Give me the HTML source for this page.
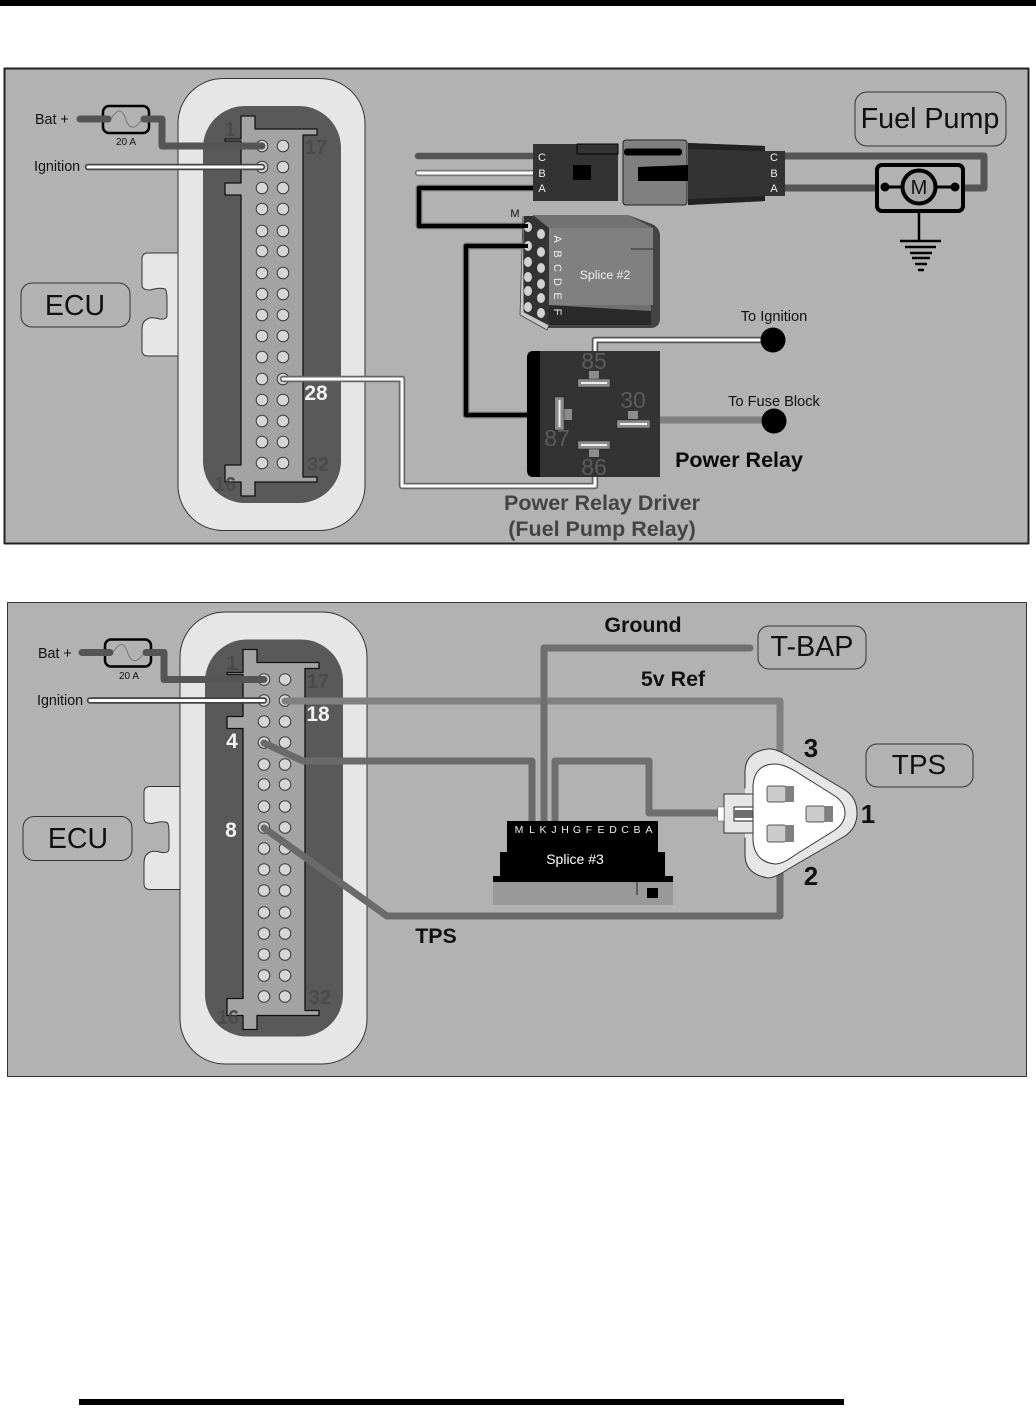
<!DOCTYPE html>
<html><head><meta charset="utf-8"><style>
html,body{margin:0;padding:0;background:#fff}
svg{display:block}
text{font-family:"Liberation Sans",Arial,sans-serif}
</style></head><body>
<svg width="1036" height="1416" viewBox="0 0 1036 1416" xmlns="http://www.w3.org/2000/svg" fill="none" stroke-linejoin="round" stroke-linecap="round">
<defs>
<g id="ecu">
  <path d="M178,253H148Q142,253 142,259V285Q142,290 150,290Q160,287 165,289Q167,290 167,300V315Q167,320 160,319Q150,316 146,320Q142,322 142,330V350Q142,356 148,356H178" fill="#e6e6e6" stroke="#333" stroke-width="1"/>
  <rect x="178" y="78.500" width="187" height="452" rx="45" fill="#e6e6e6" stroke="#333" stroke-width="1"/>
  <rect x="203" y="106" width="138" height="397" rx="42" fill="#595959"/>
  <path d="M241,116H255V129H317V135H303V477H317V482H255V496H241V482H225V465H241V195H225V183H241V141H225V139H241Z" fill="#a3a3a3" stroke="#111" stroke-width="1.300"/>
  <g fill="#d6d6d6" stroke="#3a3a3a" stroke-width="1">
    <circle cx="262" cy="146" r="5.800"/><circle cx="283" cy="146" r="5.800"/>
    <circle cx="262" cy="167" r="5.800"/><circle cx="283" cy="167" r="5.800"/>
    <circle cx="262" cy="188" r="5.800"/><circle cx="283" cy="188" r="5.800"/>
    <circle cx="262" cy="209" r="5.800"/><circle cx="283" cy="209" r="5.800"/>
    <circle cx="262" cy="231" r="5.800"/><circle cx="283" cy="231" r="5.800"/>
    <circle cx="262" cy="251" r="5.800"/><circle cx="283" cy="251" r="5.800"/>
    <circle cx="262" cy="273" r="5.800"/><circle cx="283" cy="273" r="5.800"/>
    <circle cx="262" cy="294" r="5.800"/><circle cx="283" cy="294" r="5.800"/>
    <circle cx="262" cy="315" r="5.800"/><circle cx="283" cy="315" r="5.800"/>
    <circle cx="262" cy="336" r="5.800"/><circle cx="283" cy="336" r="5.800"/>
    <circle cx="262" cy="357" r="5.800"/><circle cx="283" cy="357" r="5.800"/>
    <circle cx="262" cy="379" r="5.800"/><circle cx="283" cy="379" r="5.800"/>
    <circle cx="262" cy="400" r="5.800"/><circle cx="283" cy="400" r="5.800"/>
    <circle cx="262" cy="421" r="5.800"/><circle cx="283" cy="421" r="5.800"/>
    <circle cx="262" cy="442" r="5.800"/><circle cx="283" cy="442" r="5.800"/>
    <circle cx="262" cy="463" r="5.800"/><circle cx="283" cy="463" r="5.800"/>
  </g>
  <rect x="21" y="283" width="109" height="44" rx="11" fill="#b2b2b2" stroke="#333" stroke-width="1"/>
  <rect x="103" y="106" width="46" height="27" rx="6" stroke="#000" stroke-width="2.500"/>
  <path d="M110,120C118,108 122,108 126,120C130,131 136,129 143,118" stroke="#777" stroke-width="1"/>
  <path d="M80,119H108M144,119H162V146H262" stroke="#555" stroke-width="7"/>
  <path d="M88,167H262" stroke="#444" stroke-width="6.500"/>
  <path d="M88,167H262" stroke="#fff" stroke-width="3"/>
</g>
</defs>

<rect x="0" y="0" width="1036" height="6" fill="#000"/>
<rect x="79" y="1399" width="765" height="6" fill="#000"/>

<!-- PANEL 1 -->
<rect x="4.500" y="68.500" width="1024" height="475" fill="#b2b2b2" stroke="#222" stroke-width="2"/>
<use href="#ecu"/>
<g fill="#111" stroke="none">
  <text x="35" y="124" font-size="14.300">Bat +</text>
  <text x="34" y="171" font-size="14.300">Ignition</text>
  <text x="126" y="145" font-size="10" text-anchor="middle">20 A</text>
  <text x="75" y="315" font-size="28.500" text-anchor="middle">ECU</text>
</g>
<g fill="#4b4b4b" stroke="none" font-size="20" font-weight="bold">
  <text x="230" y="136" text-anchor="middle">1</text>
  <text x="316" y="154" text-anchor="middle">17</text>
  <text x="318" y="471" text-anchor="middle">32</text>
  <text x="225" y="491" text-anchor="middle">16</text>
</g>
<text x="316" y="400" font-size="21" font-weight="bold" fill="#f2f2f2" text-anchor="middle">28</text>

<path d="M283,379H402V486H595V460" stroke="#666" stroke-width="6.500"/>
<path d="M283,379H402V486H595V460" stroke="#fff" stroke-width="3"/>

<!-- wires to connector -->
<path d="M418,156H533" stroke="#555" stroke-width="6.500"/>
<path d="M418,173H533" stroke="#777" stroke-width="6.500"/>
<path d="M418,173H533" stroke="#fff" stroke-width="3"/>
<path d="M533,188H419V226H527" stroke="#666" stroke-width="6.500"/>
<path d="M533,188H419V226H527" stroke="#000" stroke-width="4"/>
<path d="M527,246H466V415H527" stroke="#666" stroke-width="6.500"/>
<path d="M527,246H466V415H527" stroke="#000" stroke-width="4"/>
<path d="M785,156H984V188H785" stroke="#555" stroke-width="7" stroke-linecap="butt"/>

<!-- Left connector -->
<rect x="533" y="144" width="85" height="57" fill="#333"/>
<rect x="577" y="144" width="41" height="10" fill="#333" stroke="#000" stroke-width="1"/>
<rect x="573" y="165" width="18" height="15" fill="#000"/>
<!-- middle -->
<rect x="623" y="140" width="64" height="65" rx="3" fill="#808080" stroke="#222" stroke-width="1"/>
<rect x="624" y="148.500" width="58" height="7" rx="3" fill="#000"/>
<path d="M638,167L688,165V181H638Z" fill="#000"/>
<!-- right connector -->
<path d="M688,143L765,146V151H785V196H765V201L688,205Z" fill="#333"/>
<path d="M688,143L765,146V151L688,149Z" fill="#222"/>
<path d="M688,199L765,196V201L688,205Z" fill="#222"/>
<g fill="#eee" font-size="11" text-anchor="middle" stroke="none">
  <text x="542" y="161">C</text><text x="542" y="177">B</text><text x="542" y="192">A</text>
  <text x="774" y="161">C</text><text x="774" y="177">B</text><text x="774" y="192">A</text>
</g>

<!-- Motor -->
<rect x="877" y="165" width="86" height="46" rx="5" fill="#b2b2b2" stroke="#000" stroke-width="4"/>
<path d="M885,187H955" stroke="#000" stroke-width="3"/>
<circle cx="885" cy="187" r="4.500" fill="#000"/><circle cx="955" cy="187" r="4.500" fill="#000"/>
<circle cx="919" cy="187" r="16.500" fill="#a8a8a8" stroke="#000" stroke-width="4"/>
<text x="919" y="194" font-size="20" fill="#111" text-anchor="middle">M</text>
<path d="M919,212V241" stroke="#000" stroke-width="2.500" stroke-linecap="butt"/>
<path d="M900,241H941M905,247H936M910,253H932M912,258H930M915,264H927M918,270H924" stroke="#000" stroke-width="2.500" stroke-linecap="butt"/>
<rect x="855" y="92" width="151" height="54" rx="12" fill="#b2b2b2" stroke="#333" stroke-width="1"/>
<text x="930" y="128" font-size="28.700" fill="#111" text-anchor="middle">Fuel Pump</text>

<!-- Splice 2 -->
<path d="M533,215H628L652,224Q660,228 660,236V318Q660,328 650,328H545L533,320Z" fill="#444"/>
<path d="M533,215H628L653,228H549Z" fill="#727272"/>
<rect x="549" y="228" width="104" height="77" fill="#808080"/>
<path d="M549,305L651,311V325H549Z" fill="#2a2a2a"/>
<path d="M549,305H651V311Z" fill="#707070"/>
<path d="M631,249H653" stroke="#555" stroke-width="2" stroke-linecap="butt"/>
<path d="M523,216L520,315L547,330L549,325L524,312Z" fill="#c8c8c8" stroke="#444" stroke-width=".8"/>
<path d="M524,216H533L549,228V325L524,312Z" fill="#333"/>
<g fill="#d2d2d2" stroke="none">
  <ellipse cx="528" cy="227" rx="4" ry="5"/><ellipse cx="528" cy="246" rx="4" ry="5"/><ellipse cx="528" cy="262" rx="4" ry="5"/><ellipse cx="528" cy="277" rx="4" ry="5"/><ellipse cx="528" cy="291" rx="4" ry="5"/><ellipse cx="528" cy="307" rx="4" ry="5"/>
  <ellipse cx="541" cy="234" rx="4" ry="5"/><ellipse cx="541" cy="252" rx="4" ry="5"/><ellipse cx="541" cy="268" rx="4" ry="5"/><ellipse cx="541" cy="284" rx="4" ry="5"/><ellipse cx="541" cy="298" rx="4" ry="5"/><ellipse cx="541" cy="313" rx="4" ry="5"/>
</g>
<path d="M520,226H528M520,246H528" stroke="#000" stroke-width="4" stroke-linecap="butt"/>
<g fill="#eee" font-size="11" text-anchor="middle" stroke="none">
  <text transform="translate(554,239) rotate(90)">A</text>
  <text transform="translate(554,254) rotate(90)">B</text>
  <text transform="translate(554,268) rotate(90)">C</text>
  <text transform="translate(554,282) rotate(90)">D</text>
  <text transform="translate(554,296) rotate(90)">E</text>
  <text transform="translate(554,312) rotate(90)">F</text>
</g>
<text x="605" y="279" font-size="12.300" fill="#eee" text-anchor="middle">Splice #2</text>
<text x="515" y="217" font-size="11" fill="#111" text-anchor="middle">M</text>

<!-- Relay -->
<path d="M595,351V340H773" stroke="#555" stroke-width="6.500"/>
<path d="M595,351V340H773" stroke="#fff" stroke-width="3"/>
<path d="M660,420H773" stroke="#808080" stroke-width="7" stroke-linecap="butt"/>
<circle cx="773" cy="340" r="12.500" fill="#000"/>
<circle cx="774" cy="421" r="12.500" fill="#000"/>
<rect x="532" y="351" width="128" height="126" fill="#333"/>
<path d="M540,351H533Q527,351 527,358V470Q527,477 533,477H540Z" fill="#000"/>
<g fill="#8c8c8c">
  <rect x="589" y="371" width="10" height="8"/>
  <rect x="589" y="449" width="10" height="8"/>
  <rect x="628" y="411" width="10" height="8"/>
  <rect x="564" y="409" width="8" height="11"/>
</g>
<g fill="#8c8c8c" stroke="#222" stroke-width=".5">
  <rect x="578" y="379" width="32" height="8"/>
  <rect x="578" y="441" width="32" height="8"/>
  <rect x="617" y="420" width="33" height="8"/>
  <rect x="555" y="397" width="9" height="33"/>
</g>
<g fill="#eee">
  <rect x="581" y="382" width="26" height="2"/>
  <rect x="581" y="444" width="26" height="2"/>
  <rect x="620" y="423" width="27" height="2"/>
  <rect x="558.500" y="400" width="2" height="27"/>
</g>
<g fill="#5c5c5c" font-size="23" text-anchor="middle" stroke="none">
  <text x="594" y="369">85</text>
  <text x="633" y="408">30</text>
  <text x="557" y="446">87</text>
  <text x="594" y="475">86</text>
</g>
<g fill="#111" font-size="14.600" text-anchor="middle" stroke="none">
  <text x="774" y="321">To Ignition</text>
  <text x="774" y="406">To Fuse Block</text>
</g>
<text x="739" y="467" font-size="21.500" font-weight="bold" fill="#0a0a0a" text-anchor="middle">Power Relay</text>
<text x="602" y="510" font-size="21.500" font-weight="bold" fill="#444" text-anchor="middle">Power Relay Driver</text>
<text x="602" y="536" font-size="21.500" font-weight="bold" fill="#444" text-anchor="middle">(Fuel Pump Relay)</text>

<!-- PANEL 2 -->
<rect x="7.500" y="602.500" width="1019" height="474" fill="#b2b2b2" stroke="#333" stroke-width="1"/>
<use href="#ecu" x="2" y="533.500"/>
<g fill="#111" stroke="none">
  <text x="38" y="658" font-size="14.300">Bat +</text>
  <text x="37" y="705" font-size="14.300">Ignition</text>
  <text x="129" y="679" font-size="10" text-anchor="middle">20 A</text>
  <text x="78" y="848" font-size="28.500" text-anchor="middle">ECU</text>
</g>
<g fill="#4b4b4b" stroke="none" font-size="20" font-weight="bold">
  <text x="232" y="670" text-anchor="middle">1</text>
  <text x="318" y="688" text-anchor="middle">17</text>
  <text x="320" y="1004" text-anchor="middle">32</text>
  <text x="228" y="1024" text-anchor="middle">16</text>
</g>
<g fill="#f2f2f2" stroke="none" font-size="21" font-weight="bold" text-anchor="middle">
  <text x="318" y="721">18</text>
  <text x="232" y="748">4</text>
  <text x="231" y="837">8</text>
</g>

<!-- wires p2 -->
<path d="M285,701H780V750" stroke="#808080" stroke-width="7"/>
<path d="M750,648H544V822" stroke="#6e6e6e" stroke-width="7"/>
<path d="M264,743L303,761H532V822" stroke="#6a6a6a" stroke-width="7"/>
<path d="M555,822V761H649V813H735" stroke="#6e6e6e" stroke-width="7"/>
<path d="M264,828L387,916H780V870" stroke="#6a6a6a" stroke-width="7"/>

<!-- splice 3 -->
<path d="M507,821H658V852H665V876H673V882H493V876H500V852H507Z" fill="#000"/>
<rect x="493" y="882" width="180" height="23" fill="#999"/>
<path d="M637,882V895" stroke="#222" stroke-width="1" stroke-linecap="butt"/>
<rect x="647" y="888" width="11" height="10" fill="#000"/>
<g fill="#eee" font-size="10.500" text-anchor="middle" stroke="none">
  <text x="519" y="833">M</text><text x="532" y="833">L</text><text x="543" y="833">K</text><text x="554" y="833">J</text>
  <text x="565" y="833">H</text><text x="577" y="833">G</text><text x="589" y="833">F</text><text x="601" y="833">E</text>
  <text x="613" y="833">D</text><text x="625" y="833">C</text><text x="637" y="833">B</text><text x="649" y="833">A</text>
</g>
<text x="575" y="864" font-size="14" fill="#fff" text-anchor="middle">Splice #3</text>

<!-- TPS connector -->
<path d="M745,788V772Q745,752 768,749Q775,748 790,757L845,790Q857,798 857,813Q857,828 845,836L790,868Q775,878 768,878Q745,874 745,855V838" fill="#e6e6e6" stroke="#333" stroke-width="1"/>
<rect x="724" y="794" width="29" height="39" fill="#e6e6e6" stroke="#333" stroke-width="1"/>
<rect x="718" y="807" width="6" height="14" fill="#fff" stroke="#555" stroke-width=".5"/>
<rect x="734" y="807" width="19" height="14" fill="#fff" stroke="#222" stroke-width="1"/>
<rect x="734" y="810" width="19" height="8" fill="#6e6e6e"/>
<path d="M753,813V785Q755,764 775,764Q783,764 795,771L835,796Q845,803 845,813Q845,823 835,830L795,855Q783,864 775,864Q755,862 753,841Z" fill="#fff" stroke="#333" stroke-width="1"/>
<rect x="767" y="786" width="19" height="16" rx="2" fill="#ccc" stroke="#222" stroke-width=".7"/>
<rect x="786" y="786" width="8" height="16" fill="#808080"/>
<rect x="806" y="806" width="19" height="16" rx="2" fill="#ccc" stroke="#222" stroke-width=".7"/>
<rect x="825" y="806" width="8" height="16" fill="#808080"/>
<rect x="767" y="825" width="19" height="17" rx="2" fill="#ccc" stroke="#222" stroke-width=".7"/>
<rect x="786" y="825" width="8" height="17" fill="#808080"/>
<g fill="#111" font-size="26" font-weight="bold" text-anchor="middle" stroke="none">
  <text x="811" y="757">3</text>
  <text x="868" y="823">1</text>
  <text x="811" y="885">2</text>
</g>
<rect x="758" y="626" width="108" height="43" rx="11" fill="#b2b2b2" stroke="#333" stroke-width="1"/>
<text x="812" y="656" font-size="28.700" fill="#111" text-anchor="middle">T-BAP</text>
<rect x="866" y="744" width="107" height="43" rx="11" fill="#b2b2b2" stroke="#333" stroke-width="1"/>
<text x="919" y="774" font-size="28" fill="#111" text-anchor="middle">TPS</text>
<g fill="#111" font-size="21.400" font-weight="bold" text-anchor="middle" stroke="none">
  <text x="643" y="632">Ground</text>
  <text x="673" y="686">5v Ref</text>
  <text x="436" y="943">TPS</text>
</g>
</svg>
</body></html>
